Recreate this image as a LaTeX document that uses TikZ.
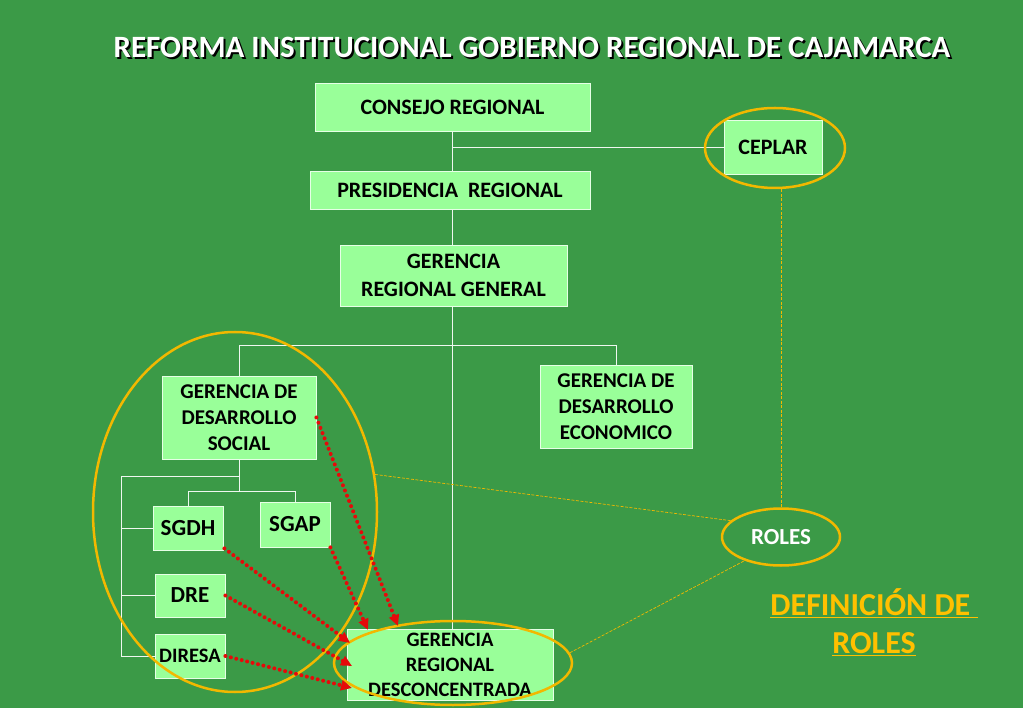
\documentclass[tikz,border=0pt]{standalone}
\usepackage{fontspec}
\setmainfont{Carlito}
\usetikzlibrary{shapes.geometric,arrows.meta,calc}
\pgfdeclarelayer{backlayer}
\pgfdeclarelayer{linelayer}
\pgfsetlayers{backlayer,linelayer,main}
\definecolor{bg}{RGB}{59,154,71}
\definecolor{boxg}{RGB}{153,255,153}
\definecolor{gold}{RGB}{242,184,0}
\definecolor{goldtxt}{RGB}{255,192,0}
\definecolor{arrred}{RGB}{230,10,10}
\tikzset{
  orgbox/.style={rectangle, fill=boxg, draw=white!75!boxg, line width=0.8pt, inner sep=0pt,
    align=center, font=\bfseries\fontsize{22}{28}\selectfont, text=black},
  smallbox/.style={orgbox, font=\bfseries\fontsize{21}{26}\selectfont},
  ring/.style={ellipse, draw=gold, line width=2.5pt, inner sep=0pt},
  link/.style={draw=white!92!bg, line width=0.9pt},
  goldlink/.style={draw=gold, line width=0.7pt, dash pattern=on 3pt off 1.5pt},
  redarrow/.style={draw=arrred, line width=4pt, line cap=round, dash pattern=on 0pt off 5.6pt,
    -{Triangle[length=11pt,width=10pt,fill=arrred]}},
}
\begin{document}
\begin{tikzpicture}[x=1pt,y=-1pt]
\begin{pgfonlayer}{backlayer}
\fill[bg] (0,0) rectangle (1023,708);
\end{pgfonlayer}
\useasboundingbox (0,0) rectangle (1023,708);
% title
\node[font=\bfseries\fontsize{31}{34}\selectfont, text=black] (titleshadow) at (534,49) {REFORMA INSTITUCIONAL GOBIERNO REGIONAL DE CAJAMARCA};
\node[font=\bfseries\fontsize{31}{34}\selectfont, text=white] (title) at (532,47) {REFORMA INSTITUCIONAL GOBIERNO REGIONAL DE CAJAMARCA};
% boxes
\node[orgbox, minimum width=275, minimum height=48] (cr) at (452.5,107) {CONSEJO REGIONAL};
\node[orgbox, minimum width=98, minimum height=54] (ceplar) at (773,147) {CEPLAR};
\node[orgbox, minimum width=280, minimum height=38] (pr) at (450,190) {PRESIDENCIA\ \ REGIONAL};
\node[orgbox, minimum width=227, minimum height=61] (grg) at (453.5,275.5) {GERENCIA\\REGIONAL GENERAL};
\node[smallbox, minimum width=154, minimum height=83] (gds) at (239,417.5) {GERENCIA DE\\DESARROLLO\\SOCIAL};
\node[smallbox, minimum width=152, minimum height=83] (gde) at (616,406.5) {GERENCIA DE\\DESARROLLO\\ECONOMICO};
\node[orgbox, minimum width=70, minimum height=44, font=\bfseries\fontsize{23}{26}\selectfont] (sgdh) at (188,528) {SGDH};
\node[orgbox, minimum width=70, minimum height=45, font=\bfseries\fontsize{23}{26}\selectfont] (sgap) at (295,524.5) {SGAP};
\node[orgbox, minimum width=70, minimum height=43, font=\bfseries\fontsize{23}{26}\selectfont] (dre) at (190,595.5) {DRE};
\node[orgbox, minimum width=70, minimum height=44, font=\bfseries\fontsize{20.5}{26}\selectfont] (diresa) at (190,656) {DIRESA};
\node[smallbox, minimum width=206, minimum height=71, font=\bfseries\fontsize{20.5}{25}\selectfont] (grd) at (450,664.5) {GERENCIA\\REGIONAL\\DESCONCENTRADA};
% connectors (behind the boxes)
\begin{pgfonlayer}{linelayer}
\draw[link] (cr.south) -- (cr.south |- grd.north);
\draw[link] (cr.south |- ceplar.west) -- (ceplar.west);
\draw[link] (gds.north) -- ++(0,-30) -| (gde.north);
\draw[link] (gds.south) -- ++(0,32) coordinate (j2);
\draw[link] (sgdh.north) |- (j2) -| (sgap.north);
\coordinate (lt) at (121,476);
\draw[link] (gds.south |- lt) -- (lt) -- (lt |- diresa.west) -- (diresa.west);
\draw[link] (lt |- sgdh.west) -- (sgdh.west);
\draw[link] (lt |- dre.west) -- (dre.west);
\end{pgfonlayer}
% ellipses
\node[ring, minimum width=140, minimum height=80] (cepell) at (775,148) {};
\node[ring, minimum width=284, minimum height=360] (bigell) at (235,512) {};
\node[ring, minimum width=238, minimum height=84] (grdell) at (453,663) {};
\node[ring, minimum width=118, minimum height=57, text=white, font=\bfseries\fontsize{23}{26}\selectfont] (roles) at (781,537) {ROLES};
% gold dashed links
\draw[goldlink] (roles.north) -- (roles.north |- cepell.south);
\draw[goldlink] (bigell.15) -- (roles.162);
\draw[goldlink] (grdell.5) -- (roles.213);
% red dotted arrows
\coordinate (t1) at (398,626);
\coordinate (t2) at (368,630);
\coordinate (t3) at (350,643);
\coordinate (t4) at (352,666);
\coordinate (t5) at (352,688);
\draw[redarrow] (gds.east) -- (t1);
\draw[redarrow] (sgap.south east) -- (t2);
\draw[redarrow] ($(sgdh.south east)+(1,-2)$) -- (t3);
\draw[redarrow] (dre.east) -- (t4);
\draw[redarrow] (diresa.east) -- (t5);
% definicion de roles
\node[text=goldtxt, font=\bfseries\fontsize{32}{38}\selectfont, align=center] (def) at (874,622)
  {\underline{DEFINICIÓN DE\ }\\\underline{ROLES}};
\end{tikzpicture}
\end{document}
